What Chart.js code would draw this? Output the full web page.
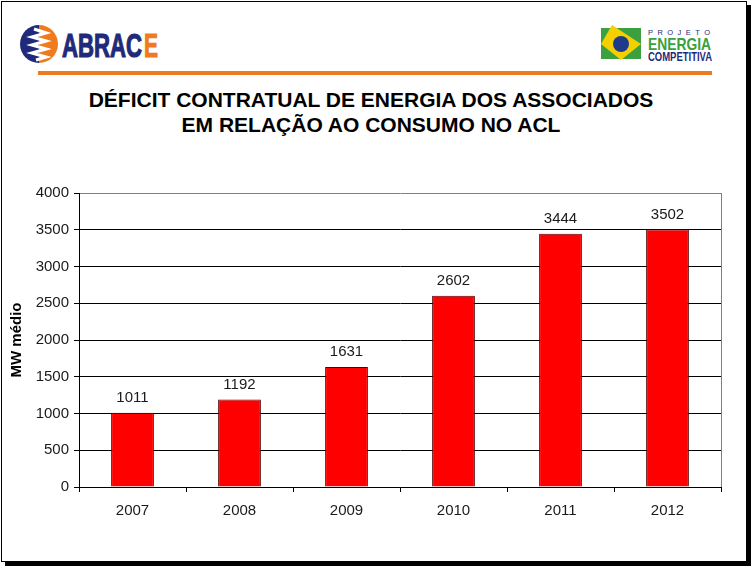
<!DOCTYPE html>
<html>
<head>
<meta charset="utf-8">
<script src="https://cdn.jsdelivr.net/npm/chart.js@4/dist/chart.umd.min.js"></script>
<style>
  html, body { margin:0; padding:0; background:#fff; width:753px; height:567px; overflow:hidden; }
  #frame { position:absolute; left:1px; top:1px; width:744px; height:559px; border:1px solid #000; box-shadow:4px 4px 0 #000; background:#fff; }
  #c { position:absolute; left:0; top:0; }
  #title { position:absolute; left:0; width:742px; top:87px; text-align:center; font-family:"Liberation Sans", Arial, sans-serif; font-weight:bold; font-size:21px; line-height:25px; color:#000; }
  svg { position:absolute; left:0; top:0; }
</style>
</head>
<body>
<div id="frame"></div>
<svg width="753" height="100" viewBox="0 0 753 100">
  <!-- ABRACE logo -->
  <path d="M39 25 A19 19 0 0 0 39 63 Z" fill="#1f2a7a"/>
  <path d="M39 25 A19 19 0 0 1 39 63 Z" fill="#f07a1e"/>
  <polyline points="34,29 46,33 32,37 46,41 32,45 46,49 32,53 46,57 36,60" fill="none" stroke="#fff" stroke-width="3.2"/>
  <text x="62" y="57" font-family="Liberation Sans, Arial" font-weight="bold" font-size="34" fill="#1f2a7a" stroke="#1f2a7a" stroke-width="1.2" textLength="80" lengthAdjust="spacingAndGlyphs">ABRAC</text>
  <text x="144" y="57" font-family="Liberation Sans, Arial" font-weight="bold" font-size="34" fill="#f07a1e" stroke="#f07a1e" stroke-width="1.2" textLength="14" lengthAdjust="spacingAndGlyphs">E</text>
  <rect x="38" y="71" width="674" height="4" fill="#f07a1e"/>
  <!-- Projeto Energia Competitiva logo -->
  <rect x="601" y="28" width="40" height="31" fill="#3aa040"/>
  <polygon points="612,25 641,44 621,60 601,44" fill="#f5d000"/>
  <circle cx="621" cy="44" r="8" fill="#1f3a8a"/>
  <text x="648" y="35" font-family="Liberation Sans, Arial" font-size="7.5" fill="#1f2a7a" textLength="62" lengthAdjust="spacing">PROJETO</text>
  <text x="648" y="50" font-family="Liberation Sans, Arial" font-weight="bold" font-size="17" fill="#3aa040" textLength="63" lengthAdjust="spacingAndGlyphs">ENERGIA</text>
  <text x="648" y="61" font-family="Liberation Sans, Arial" font-weight="bold" font-size="13" fill="#1f2a7a" textLength="64" lengthAdjust="spacingAndGlyphs">COMPETITIVA</text>
</svg>
<div id="title">DÉFICIT CONTRATUAL DE ENERGIA DOS ASSOCIADOS<br>EM RELAÇÃO AO CONSUMO NO ACL</div>
<canvas id="c" width="753" height="567"></canvas>
<script>
const categories = ["2007", "2008", "2009", "2010", "2011", "2012"];
const values = [1011, 1192, 1631, 2602, 3444, 3502];
const yTicks = [0, 500, 1000, 1500, 2000, 2500, 3000, 3500, 4000];
const yTitle = "MW médio";

const FONT = '"Liberation Sans", Arial, sans-serif';

const labelPlugin = {
  id: 'labels',
  afterDatasetsDraw(chart) {
    const ctx = chart.ctx;
    const meta = chart.getDatasetMeta(0);
    ctx.save();
    ctx.font = '15px ' + FONT;
    ctx.fillStyle = '#1a1a1a';
    ctx.textAlign = 'center';
    ctx.textBaseline = 'middle';
    meta.data.forEach((el, i) => {
      ctx.fillText(String(values[i]), el.x, el.y - 15);
    });
    ctx.restore();
  }
};
const borderPlugin = {
  id: 'rightBorder',
  beforeDatasetsDraw(chart) {
    const a = chart.chartArea, ctx = chart.ctx;
    ctx.save();
    ctx.strokeStyle = '#808080';
    ctx.lineWidth = 1;
    ctx.beginPath();
    ctx.moveTo(Math.round(a.right) + 0.5, a.top);
    ctx.lineTo(Math.round(a.right) + 0.5, a.bottom);
    ctx.stroke();
    ctx.restore();
  }
};

new Chart(document.getElementById('c'), {
  type: 'bar',
  data: {
    labels: categories,
    datasets: [{
      data: values,
      backgroundColor: '#ff0000',
      borderColor: '#5a0000',
      borderWidth: 1,
      categoryPercentage: 1,
      barPercentage: 0.4
    }]
  },
  options: {
    responsive: false,
    animation: false,
    events: [],
    layout: { padding: { left: 0, top: 193, right: 32, bottom: 0 } },
    plugins: { legend: { display: false }, tooltip: { enabled: false } },
    scales: {
      x: {
        afterFit(s) { s.height = 80; },
        grid: { offset: true, drawOnChartArea: false, drawTicks: true, tickLength: 5, color: '#000', lineWidth: 1 },
        border: { display: true, color: '#000', width: 1 },
        ticks: { font: { family: FONT, size: 15 }, color: '#1a1a1a', padding: 10, maxRotation: 0 }
      },
      y: {
        min: 0, max: 4000,
        afterFit(s) { s.width = 79; },
        afterBuildTicks(s) { s.ticks = yTicks.map(v => ({ value: v })); },
        grid: { color: (c) => (c.tick && c.tick.value === 4000 ? '#808080' : '#000'), tickColor: '#000', tickLength: 5, lineWidth: 1 },
        border: { display: true, color: '#000', width: 1 },
        ticks: { font: { family: FONT, size: 15 }, color: '#1a1a1a', padding: 5, callback: (v) => String(v) },
        title: { display: true, text: yTitle, font: { family: FONT, size: 15, weight: 'bold' }, color: '#000', padding: { top: 8, bottom: 0 } }
      }
    }
  },
  plugins: [labelPlugin, borderPlugin]
});
</script>
</body>
</html>
